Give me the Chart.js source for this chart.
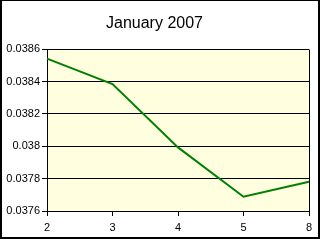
<!DOCTYPE html>
<html>
<head>
<meta charset="utf-8">
<script src="https://cdn.jsdelivr.net/npm/chart.js@4/dist/chart.umd.min.js"></script>
<style>
html,body{margin:0;padding:0;background:#fff;}
#wrap{width:320px;height:240px;position:relative;}
canvas{display:block;}
</style>
</head>
<body>
<div id="wrap"><canvas id="c" width="320" height="240"></canvas></div>
<script>
const categories = ['2', '3', '4', '5', '8'];
const values = [0.038542, 0.038385, 0.037993, 0.037688, 0.037781];
const yTicks = [0.0376, 0.0378, 0.038, 0.0382, 0.0384, 0.0386];
const titleText = 'January 2007';

const bgPlugin = {
  id: 'bg',
  beforeDraw(chart) {
    const {ctx, chartArea: a} = chart;
    ctx.save();
    ctx.fillStyle = '#ffffe0';
    ctx.fillRect(a.left, a.top, a.right - a.left, a.bottom - a.top);
    ctx.restore();
  },
  afterDraw(chart) {
    const {ctx, chartArea: a} = chart;
    ctx.save();
    ctx.strokeStyle = '#000';
    ctx.lineWidth = 1;
    ctx.beginPath();
    const r = Math.round(a.right) + 0.5;
    ctx.moveTo(r, Math.round(a.top) + 0.5);
    ctx.lineTo(r, Math.round(a.bottom) + 0.5);
    ctx.stroke();
    ctx.fillStyle = '#000';
    ctx.fillRect(0, 0, 320, 1);
    ctx.fillRect(0, 0, 2, 239);
    ctx.fillRect(318, 0, 2, 239);
    ctx.fillRect(0, 237, 320, 2);
    ctx.restore();
  }
};

new Chart(document.getElementById('c'), {
  type: 'line',
  data: {
    labels: categories,
    datasets: [{
      data: values,
      borderColor: '#008000',
      borderWidth: 2,
      pointRadius: 0,
      tension: 0,
      fill: false
    }]
  },
  options: {
    responsive: false,
    animation: false,
    devicePixelRatio: 1,
    layout: {padding: {left: 0, right: 11, top: 0, bottom: 0}},
    plugins: {
      legend: {display: false},
      tooltip: {enabled: false},
      title: {
        display: true,
        text: titleText,
        color: '#000',
        font: {family: 'Liberation Sans', size: 16, weight: 'normal', lineHeight: 1.2},
        padding: {top: 14, bottom: 16}
      }
    },
    scales: {
      x: {
        type: 'category',
        offset: false,
        grid: {display: true, drawOnChartArea: false, drawTicks: true, tickLength: 5, color: '#000'},
        border: {display: true, color: '#000'},
        ticks: {color: '#000', font: {family: 'Liberation Sans', size: 11}, padding: 5, maxRotation: 0, autoSkip: false},
        afterFit(s) { s.height = 29; }
      },
      y: {
        min: 0.0376,
        max: 0.0386,
        afterBuildTicks(s) { s.ticks = yTicks.map(v => ({value: v})); },
        grid: {color: '#000', tickLength: 5, drawTicks: true},
        border: {display: true, color: '#000'},
        ticks: {
          color: '#000',
          font: {family: 'Liberation Sans', size: 11},
          padding: 2,
          callback: v => String(+Number(v).toFixed(4))
        },
        afterFit(s) { s.width = 47; }
      }
    }
  },
  plugins: [bgPlugin]
});
</script>
</body>
</html>
